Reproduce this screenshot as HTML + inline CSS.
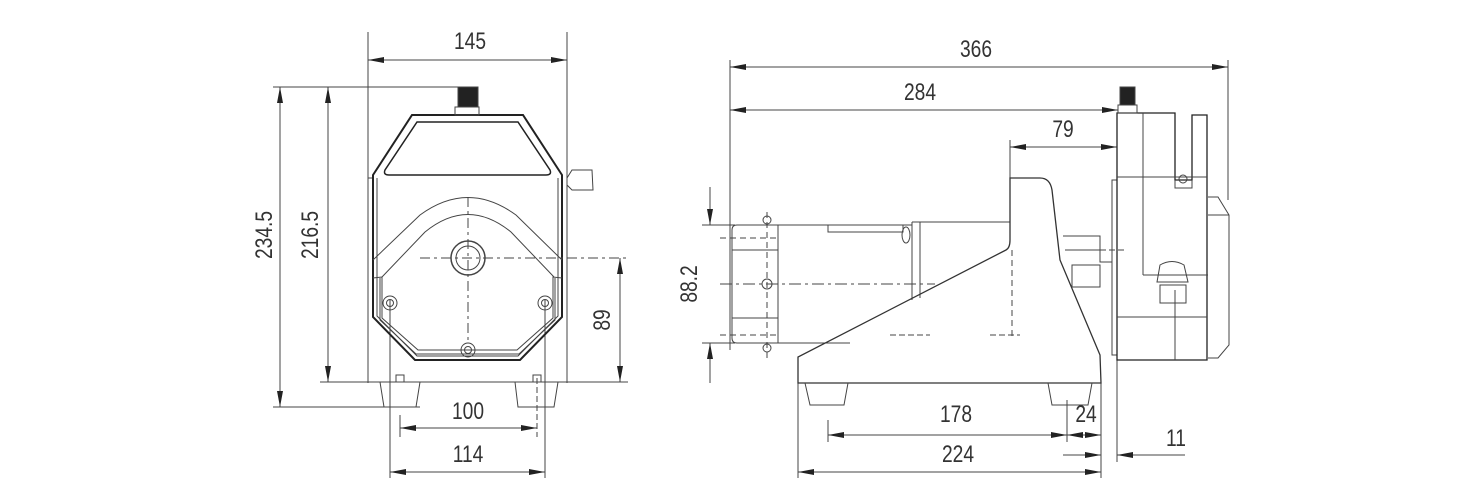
<!DOCTYPE html>
<html><head><meta charset="utf-8"><style>
html,body{margin:0;padding:0;background:#fff}
svg{display:block}
text{font-family:"Liberation Sans",sans-serif;font-size:24px;fill:#333}
</style></head><body>
<svg width="1484" height="500" viewBox="0 0 1484 500" xmlns="http://www.w3.org/2000/svg">
<defs>
<marker id="a" viewBox="0 0 16 6" refX="16" refY="3" markerWidth="16" markerHeight="6" orient="auto-start-reverse" markerUnits="userSpaceOnUse"><path d="M0,0L16,3L0,6z" fill="#222"/></marker>
</defs>
<g stroke="#444" stroke-width="1" fill="none">
<!-- FRONT VIEW dimensions -->
<line x1="368" y1="32" x2="368" y2="383"/><line x1="567" y1="32" x2="567" y2="383"/>
<line x1="368" y1="60" x2="567" y2="60" marker-start="url(#a)" marker-end="url(#a)"/>
<line x1="273" y1="87" x2="462" y2="87"/><line x1="273" y1="407" x2="420" y2="407"/>
<line x1="280" y1="87" x2="280" y2="407" marker-start="url(#a)" marker-end="url(#a)"/>
<line x1="320" y1="382" x2="368" y2="382"/>
<line x1="328" y1="87" x2="328" y2="382" marker-start="url(#a)" marker-end="url(#a)"/>
<line x1="567" y1="382" x2="628" y2="382"/>
<line x1="620" y1="258" x2="620" y2="382" marker-start="url(#a)" marker-end="url(#a)"/>
<line x1="400" y1="415" x2="400" y2="437"/><line x1="537" y1="378" x2="537" y2="437" stroke-dasharray="6 3"/>
<line x1="400" y1="428" x2="537" y2="428" marker-start="url(#a)" marker-end="url(#a)"/>
<line x1="390" y1="300" x2="390" y2="478"/><line x1="545" y1="300" x2="545" y2="478"/>
<line x1="390" y1="472" x2="545" y2="472" marker-start="url(#a)" marker-end="url(#a)"/>
<!-- front body -->
<line x1="368" y1="382" x2="567" y2="382"/>
<line x1="368" y1="178" x2="373" y2="178"/>
<path d="M412,115 L523,115 L562,175 L562,317 L520,360 L415,360 L373,317 L373,175 Z" stroke="#222" stroke-width="2"/>
<path d="M377,178 L377,316 L417,356 L518,356 L558,316 L558,178"/>
<path d="M417,122 L518,122 L550,170 Q552,175 546,175 L389,175 Q383,175 385,170 Z" stroke="#222" stroke-width="1.5"/>
<path d="M567,178 L572,170 L592,170 L593,190 L572,190 L567,185"/>
<rect x="458" y="87" width="20" height="20" fill="#222"/>
<rect x="455" y="107" width="24" height="8"/>
<path d="M373,260 L420,215 Q468,180 516,215 L562,260"/>
<path d="M382,277 L425,232 Q468,197 511,232 L554,277"/>
<path d="M373,278 L382,277 L382,318 L418,350 L517,350 L553,318 L553,277 L562,278"/>
<path d="M380,278 L380,320 L416,354 L519,354 L555,320 L555,278"/>
<circle cx="468" cy="258" r="17" stroke-width="1.5"/><circle cx="468" cy="258" r="12"/>
<circle cx="390" cy="303" r="7"/><circle cx="390" cy="303" r="3.5"/>
<circle cx="545" cy="303" r="7"/><circle cx="545" cy="303" r="3.5"/>
<circle cx="468" cy="350" r="7"/><circle cx="468" cy="350" r="3.5"/>
<line x1="420" y1="258" x2="628" y2="258" stroke-dasharray="10 4 3 4"/>
<line x1="468" y1="197" x2="468" y2="340" stroke-dasharray="10 4 3 4"/>
<path d="M380,382 L384,407 L416,407 L420,382"/>
<path d="M515,382 L518,407 L554,407 L558,382"/>
<rect x="396" y="375" width="8" height="7"/><rect x="533" y="375" width="8" height="7"/>
<!-- SIDE VIEW dimensions -->
<line x1="730" y1="60" x2="730" y2="350"/><line x1="1228" y1="60" x2="1228" y2="200"/>
<line x1="730" y1="67" x2="1228" y2="67" marker-start="url(#a)" marker-end="url(#a)"/>
<line x1="730" y1="110" x2="1118" y2="110" marker-start="url(#a)" marker-end="url(#a)"/>
<line x1="1010" y1="140" x2="1010" y2="180"/>
<line x1="1010" y1="147" x2="1117" y2="147" marker-start="url(#a)" marker-end="url(#a)"/>
<line x1="702" y1="225" x2="735" y2="225"/><line x1="702" y1="343" x2="735" y2="343"/>
<line x1="710" y1="187" x2="710" y2="225" marker-end="url(#a)"/>
<line x1="710" y1="383" x2="710" y2="343" marker-end="url(#a)"/>
<line x1="828" y1="420" x2="828" y2="442"/>
<line x1="828" y1="435" x2="1067" y2="435" marker-start="url(#a)" marker-end="url(#a)"/>
<line x1="1067" y1="400" x2="1067" y2="442"/>
<line x1="1067" y1="435" x2="1101" y2="435" marker-start="url(#a)" marker-end="url(#a)"/>
<line x1="798" y1="383" x2="798" y2="478"/><line x1="1101" y1="383" x2="1101" y2="478"/>
<line x1="798" y1="472" x2="1101" y2="472" marker-start="url(#a)" marker-end="url(#a)"/>
<line x1="1117" y1="360" x2="1117" y2="462"/>
<line x1="1063" y1="455" x2="1101" y2="455" marker-end="url(#a)"/>
<line x1="1185" y1="455" x2="1117" y2="455" marker-end="url(#a)"/>
<!-- motor -->
<path d="M737,225 L778,225 L778,343 L737,343 Q732,343 732,338 L732,230 Q732,225 737,225 Z"/>
<line x1="732" y1="250" x2="778" y2="250"/><line x1="732" y1="318" x2="778" y2="318"/>
<line x1="778" y1="225" x2="912" y2="225"/><rect x="828" y="225" width="75" height="7"/>
<line x1="912" y1="222" x2="1010" y2="222"/><line x1="912" y1="222" x2="912" y2="300"/><line x1="920" y1="222" x2="920" y2="298"/>
<line x1="778" y1="343" x2="850" y2="343"/>
<ellipse cx="906" cy="235" rx="4" ry="8"/>
<circle cx="767" cy="220" r="4"/><circle cx="767" cy="348" r="4"/><circle cx="767" cy="284" r="5"/>
<line x1="720" y1="284" x2="935" y2="284" stroke-dasharray="12 4 3 4"/>
<line x1="720" y1="238" x2="778" y2="238" stroke-dasharray="6 4"/><line x1="720" y1="335" x2="778" y2="335" stroke-dasharray="6 4"/>
<line x1="767" y1="212" x2="767" y2="358" stroke-dasharray="6 4"/>
<!-- stand -->
<path d="M1010,178 L1040,178 Q1050,178 1052,190 L1060,260 L1100,355 L1101,383 L798,383 L798,357 L1006,250 Q1010,248 1010,240 Z" stroke="#333" stroke-width="1.3"/>
<path d="M805,383 L810,405 L844,405 L848,383"/>
<path d="M1048,383 L1052,405 L1088,405 L1092,383"/>
<line x1="1012" y1="250" x2="1012" y2="340" stroke-dasharray="6 4"/>
<line x1="890" y1="335" x2="930" y2="335" stroke-dasharray="6 3"/><line x1="990" y1="335" x2="1020" y2="335" stroke-dasharray="6 3"/>
<!-- coupling -->
<path d="M1063,236 L1100,236 L1100,262 L1112,262"/><path d="M1065,250 L1100,250"/><rect x="1072" y="265" width="28" height="22"/>
<line x1="1100" y1="250" x2="1125" y2="250" stroke-dasharray="6 3"/>
<!-- pump head side -->
<rect x="1112" y="180" width="5" height="175"/>
<path d="M1117,113 L1175,113 L1175,180 L1192,180 L1192,115 L1207,115 L1207,360 L1117,360 Z" stroke="#222" stroke-width="1.3"/>
<line x1="1117" y1="177" x2="1207" y2="177"/>
<line x1="1143" y1="113" x2="1143" y2="275"/>
<line x1="1143" y1="275" x2="1208" y2="275"/>
<path d="M1175,180 L1175,188 L1192,188 L1192,180"/><circle cx="1183" cy="179" r="4"/>
<line x1="1117" y1="317" x2="1207" y2="317"/>
<line x1="1175" y1="290" x2="1175" y2="360"/>
<path d="M1160,265 Q1172,258 1184,265 L1188,282 L1157,282 Z"/><rect x="1160" y="285" width="26" height="18"/>
<path d="M1208,197 L1218,197 L1229,215 L1229,345 L1218,358 L1208,358"/>
<line x1="1208" y1="215" x2="1229" y2="215"/>
<rect x="1120" y="87" width="15" height="18" fill="#222"/><rect x="1118" y="105" width="19" height="8"/>
</g>
<g>
<text x="470" y="49" text-anchor="middle" transform="translate(470 0) scale(0.8 1) translate(-470 0)">145</text>
<text transform="translate(272 235) rotate(-90) scale(0.8 1)" text-anchor="middle">234.5</text>
<text transform="translate(318 235) rotate(-90) scale(0.8 1)" text-anchor="middle">216.5</text>
<text transform="translate(610 320) rotate(-90) scale(0.8 1)" text-anchor="middle">89</text>
<text transform="translate(468 419) scale(0.8 1)" text-anchor="middle">100</text>
<text transform="translate(468 462) scale(0.8 1)" text-anchor="middle">114</text>
<text transform="translate(976 57) scale(0.8 1)" text-anchor="middle">366</text>
<text transform="translate(920 100) scale(0.8 1)" text-anchor="middle">284</text>
<text transform="translate(1063 137) scale(0.8 1)" text-anchor="middle">79</text>
<text transform="translate(697 284) rotate(-90) scale(0.8 1)" text-anchor="middle">88.2</text>
<text transform="translate(956 422) scale(0.8 1)" text-anchor="middle">178</text>
<text transform="translate(1086 422) scale(0.8 1)" text-anchor="middle">24</text>
<text transform="translate(958 462) scale(0.8 1)" text-anchor="middle">224</text>
<text transform="translate(1176 446) scale(0.8 1)" text-anchor="middle">11</text>
</g>
</svg>
</body></html>
